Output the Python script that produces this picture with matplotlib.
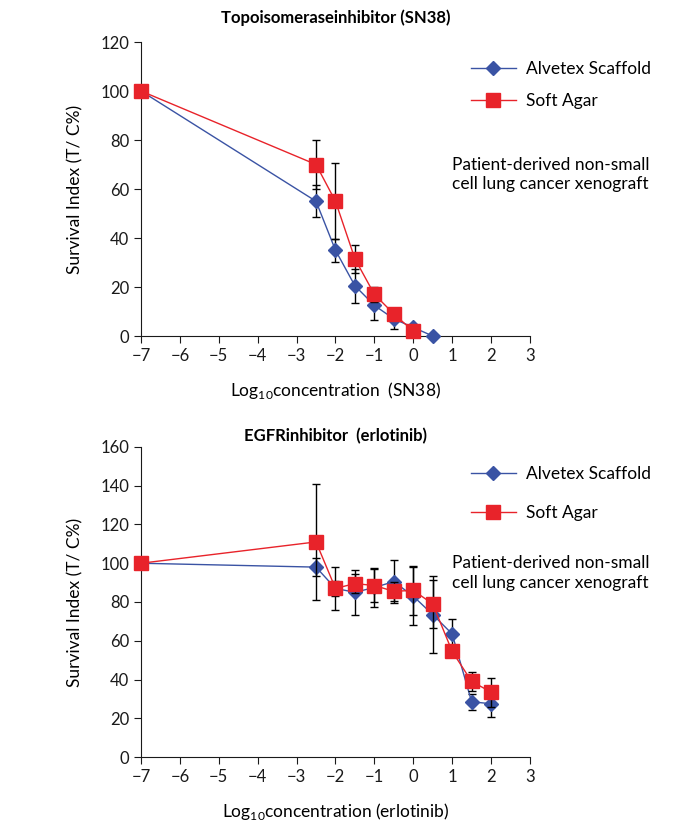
import numpy as np
import matplotlib
matplotlib.use("Agg")
import matplotlib.pyplot as plt
from matplotlib.lines import Line2D

plt.rcParams["font.family"] = ["Lato", "DejaVu Sans"]
plt.rcParams["mathtext.fontset"] = "custom"
plt.rcParams["mathtext.rm"] = "Lato"

BLUE = "#3a53a4"
RED = "#e8232a"

# Topoisomerase inhibitor (SN38)
sn38_x_blue = [-7, -2.5, -2, -1.5, -1, -0.5, 0, 0.5]
sn38_blue = [100, 55, 35, 20.5, 12.5, 7, 3.5, 0]
sn38_blue_err = [0, 6.5, 4.7, 7, 6, 4.3, 1, 0]
sn38_x_red = [-7, -2.5, -2, -1.5, -1, -0.5, 0]
sn38_red = [100, 70, 55, 31.5, 17, 9, 2]
sn38_red_err = [0, 10, 15.5, 5.7, 3, 2.5, 1]

# EGFR inhibitor (erlotinib)
erl_x = [-7, -2.5, -2, -1.5, -1, -0.5, 0, 0.5, 1, 1.5, 2]
erl_blue = [100, 98, 87, 85, 87.5, 90.5, 83, 73.5, 63.5, 28.5, 27.5]
erl_blue_err = [0, 4.7, 4, 11.5, 10, 11, 15, 20, 7.5, 4, 7]
erl_red = [100, 111, 87, 89.5, 88.5, 85.5, 86, 79, 54.5, 39, 33.5]
erl_red_err = [0, 30, 11, 5, 8.5, 5, 12.8, 12.6, 2, 5, 7.5]

fig = plt.figure(figsize=(7, 8.35), dpi=100)
ax1 = fig.add_axes([0.2014, 0.5976, 0.5557, 0.3521])
ax2 = fig.add_axes([0.2014, 0.0934, 0.5557, 0.3713])


def draw(ax, xb, yb, eb, xr, yr, er, ymax, title, tpad, xlabel, legend_y, spacing, note_y):
    ax.errorbar(xb, yb, yerr=eb, color=BLUE, ecolor="black", elinewidth=1,
                capsize=3, capthick=1, lw=1, marker="D", ms=7, mfc=BLUE, mec=BLUE,
                zorder=3)
    ax.errorbar(xr, yr, yerr=er, color=RED, ecolor="black", elinewidth=1,
                capsize=3, capthick=1, lw=1, marker="s", ms=10, mfc=RED, mec=RED,
                zorder=4)
    ax.set_xlim(-7, 3)
    ax.set_ylim(0, ymax)
    ax.set_xticks(np.arange(-7, 4, 1))
    ax.set_yticks(np.arange(0, ymax + 1, 20))
    ax.spines["top"].set_visible(False)
    ax.spines["right"].set_visible(False)
    ax.tick_params(direction="out", length=5, labelsize=12, colors="#1a1a1a")
    for s in ["left", "bottom"]:
        ax.spines[s].set_color("#1a1a1a")
    ax.set_title(title, fontsize=12, fontweight="bold", pad=tpad)
    ax.set_xlabel(xlabel, fontsize=12.5, labelpad=12)
    ax.set_ylabel("Survival Index (T/ C%)", fontsize=12.5, labelpad=12)
    for c in ax.collections:
        c.set_clip_on(False)
    for ln in ax.lines:
        ln.set_clip_on(False)
    handles = [
        Line2D([], [], color=BLUE, lw=1, marker="D", ms=7, label="Alvetex Scaffold"),
        Line2D([], [], color=RED, lw=1, marker="s", ms=10, label="Soft Agar"),
    ]
    ax.legend(handles=handles, loc="upper left", bbox_to_anchor=(0.83, legend_y),
              frameon=False, fontsize=12.5, labelspacing=spacing, handlelength=2.6,
              handletextpad=0.6, borderaxespad=0)
    ax.text(0.80, note_y, "Patient-derived non-small\ncell lung cancer xenograft",
            transform=ax.transAxes, fontsize=12.5, va="top", ha="left",
            linespacing=1.25)


draw(ax1, sn38_x_blue, sn38_blue, sn38_blue_err, sn38_x_red, sn38_red, sn38_red_err,
     120, "Topoisomeraseinhibitor (SN38)", 14, r"Log$_{10}$concentration  (SN38)",
     0.96, 0.95, 0.61)
draw(ax2, erl_x, erl_blue, erl_blue_err, erl_x, erl_red, erl_red_err,
     160, "EGFRinhibitor  (erlotinib)", 4, r"Log$_{10}$concentration (erlotinib)",
     0.96, 1.3, 0.65)

fig.savefig("out.png", dpi=100)
